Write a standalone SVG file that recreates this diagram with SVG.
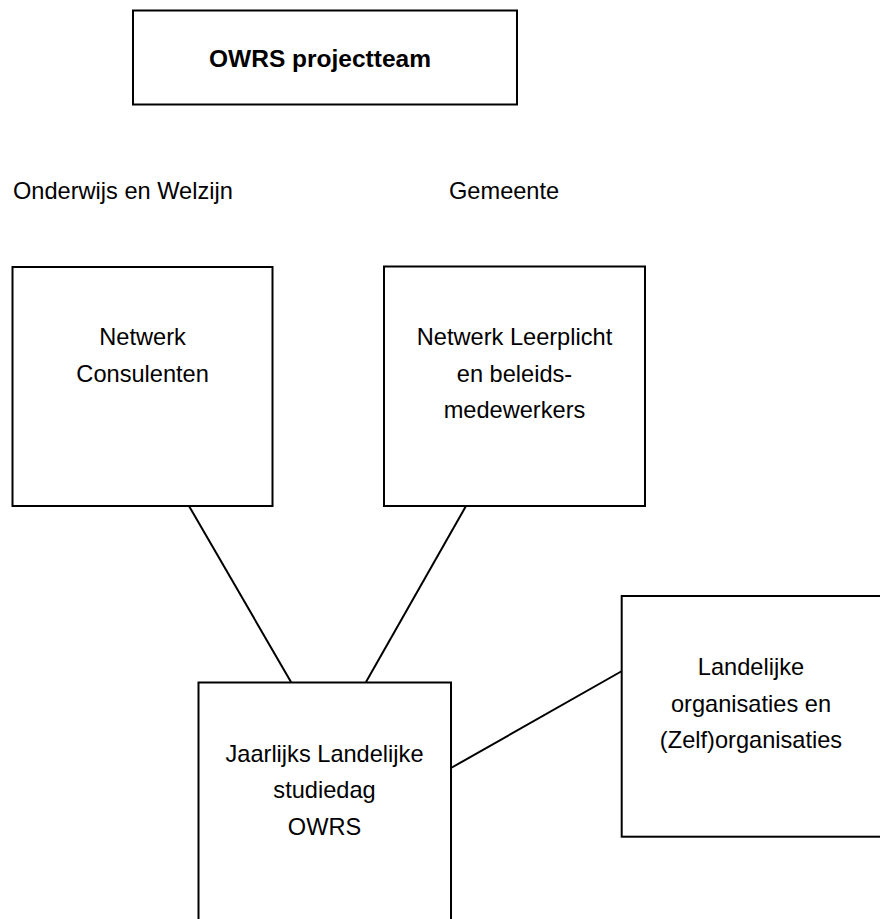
<svg xmlns="http://www.w3.org/2000/svg" width="880" height="919" viewBox="0 0 880 919">
  <style>
    .box { fill: #ffffff; stroke: #000000; stroke-width: 2; }
    .lbl { font-family: "Liberation Sans", Arial, sans-serif; font-size: 23.6px; fill: #000000; }
    .c { text-anchor: middle; }
    .b { font-weight: bold; font-size: 24.5px; }
    .conn { stroke: #000000; stroke-width: 2; fill: none; }
  </style>
  <rect width="880" height="919" fill="#ffffff"/>
  <g id="connectors">
    <line class="conn" x1="189" y1="506" x2="291" y2="682"/>
    <line class="conn" x1="466" y1="506" x2="366" y2="682"/>
    <line class="conn" x1="451" y1="768" x2="622" y2="671"/>
  </g>
  <g id="projectteam">
    <rect class="box" x="133" y="10.5" width="384" height="94"/>
    <text class="lbl c b" x="320" y="67">OWRS projectteam</text>
  </g>
  <g id="label-onderwijs">
    <text class="lbl" x="13" y="199">Onderwijs en Welzijn</text>
  </g>
  <g id="label-gemeente">
    <text class="lbl" x="449" y="199">Gemeente</text>
  </g>
  <g id="netwerk-consulenten">
    <rect class="box" x="12.5" y="267" width="260" height="239"/>
    <text class="lbl c" x="142.6" y="345">Netwerk</text>
    <text class="lbl c" x="142.6" y="382">Consulenten</text>
  </g>
  <g id="netwerk-leerplicht">
    <rect class="box" x="384" y="266.5" width="261" height="239.5"/>
    <text class="lbl c" x="514.5" y="345">Netwerk Leerplicht</text>
    <text class="lbl c" x="514.5" y="382">en beleids-</text>
    <text class="lbl c" x="514.5" y="418">medewerkers</text>
  </g>
  <g id="studiedag">
    <rect class="box" x="198.5" y="682.5" width="252.5" height="250"/>
    <text class="lbl c" x="324.5" y="762">Jaarlijks Landelijke</text>
    <text class="lbl c" x="324.5" y="798">studiedag</text>
    <text class="lbl c" x="324.5" y="835">OWRS</text>
  </g>
  <g id="landelijke-organisaties">
    <rect class="box" x="621.7" y="596" width="270" height="240.7"/>
    <text class="lbl c" x="751" y="675">Landelijke</text>
    <text class="lbl c" x="751" y="712">organisaties en</text>
    <text class="lbl c" x="751" y="748">(Zelf)organisaties</text>
  </g>
</svg>
